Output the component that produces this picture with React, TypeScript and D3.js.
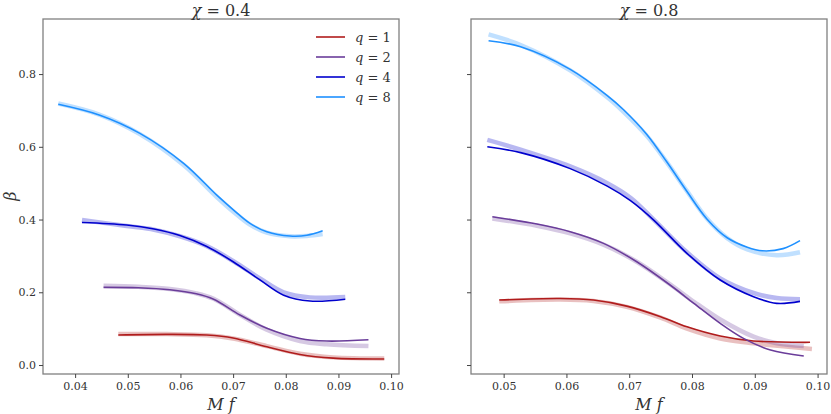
import { useEffect, useRef } from 'react'
import * as d3 from 'd3'

// panel titles and tick labels
const panels = ['0.4', '0.8']
const qValues = [1, 2, 4, 8]
const colors = ['#b01c1c', '#6a3d9a', '#0000cd', '#1e90ff']
const yTicks = [0.0, 0.2, 0.4, 0.6, 0.8]
const xTicksLeft = [0.04, 0.05, 0.06, 0.07, 0.08, 0.09, 0.1]
const xTicksRight = [0.05, 0.06, 0.07, 0.08, 0.09, 0.1]

// chi = 0.4, solid curves [Mf, beta]
const left1: [number, number][] = [[0.0482, 0.0825], [0.0574, 0.0843], [0.065, 0.0825], [0.070, 0.0745], [0.0764, 0.050], [0.0827, 0.029], [0.089, 0.019], [0.0987, 0.0165]]
const left2: [number, number][] = [[0.0454, 0.2136], [0.052, 0.2125], [0.058, 0.207], [0.063, 0.196], [0.0663, 0.181], [0.0713, 0.1375], [0.0764, 0.101], [0.0827, 0.073], [0.0878, 0.066], [0.0957, 0.0696]]
const left4: [number, number][] = [[0.0413, 0.392], [0.0498, 0.385], [0.055, 0.374], [0.0599, 0.356], [0.065, 0.326], [0.070, 0.284], [0.0751, 0.234], [0.0796, 0.192], [0.0846, 0.176], [0.0913, 0.181]]
const left8: [number, number][] = [[0.0368, 0.717], [0.0447, 0.687], [0.0523, 0.637], [0.0606, 0.5545], [0.0669, 0.467], [0.0701, 0.426], [0.0732, 0.3895], [0.0764, 0.3665], [0.0808, 0.3547], [0.084, 0.3566], [0.087, 0.369]]

// chi = 0.4, faded fits
const leftFit1: [number, number][] = [[0.0482, 0.085], [0.0574, 0.085], [0.065, 0.082], [0.070, 0.073], [0.0764, 0.052], [0.0827, 0.031], [0.089, 0.021], [0.0987, 0.018]]
const leftFit2: [number, number][] = [[0.0454, 0.218], [0.052, 0.215], [0.058, 0.209], [0.063, 0.197], [0.0663, 0.182], [0.0713, 0.138], [0.0764, 0.097], [0.0827, 0.066], [0.0878, 0.057], [0.0957, 0.052]]
const leftFit4: [number, number][] = [[0.0413, 0.399], [0.0498, 0.382], [0.055, 0.372], [0.0599, 0.354], [0.065, 0.327], [0.070, 0.286], [0.0751, 0.238], [0.0796, 0.200], [0.0846, 0.186], [0.0913, 0.187]]
const leftFit8: [number, number][] = [[0.0368, 0.719], [0.0447, 0.688], [0.0523, 0.635], [0.0606, 0.550], [0.0669, 0.462], [0.0701, 0.421], [0.0732, 0.386], [0.0764, 0.364], [0.0808, 0.354], [0.084, 0.355], [0.087, 0.360]]

// chi = 0.8, solid curves
const right1: [number, number][] = [[0.0493, 0.1787], [0.059, 0.183], [0.0643, 0.1787], [0.0696, 0.162], [0.075, 0.133], [0.0792, 0.105], [0.0845, 0.0797], [0.0898, 0.066], [0.0988, 0.0624]]
const right2: [number, number][] = [[0.0482, 0.4077], [0.0553, 0.3876], [0.0606, 0.3665], [0.0659, 0.3345], [0.0712, 0.284], [0.0765, 0.22], [0.0803, 0.1696], [0.0845, 0.1146], [0.0882, 0.0733], [0.0925, 0.041], [0.0978, 0.0247]]
const right4: [number, number][] = [[0.0474, 0.600], [0.0527, 0.584], [0.0606, 0.540], [0.0665, 0.492], [0.0702, 0.452], [0.0739, 0.3986], [0.0792, 0.307], [0.0845, 0.2337], [0.0898, 0.1878], [0.0935, 0.1696], [0.0972, 0.175]]
const right8: [number, number][] = [[0.0476, 0.8915], [0.0527, 0.875], [0.0606, 0.813], [0.0665, 0.741], [0.0691, 0.702], [0.0728, 0.634], [0.076, 0.558], [0.0792, 0.477], [0.0824, 0.401], [0.0856, 0.350], [0.0888, 0.324], [0.0912, 0.314], [0.0945, 0.320], [0.0972, 0.342]]

// chi = 0.8, faded fits
const rightFit1: [number, number][] = [[0.0493, 0.175], [0.059, 0.180], [0.0643, 0.176], [0.0696, 0.160], [0.075, 0.130], [0.0792, 0.100], [0.0845, 0.073], [0.0898, 0.0597], [0.0991, 0.044]]
const rightFit2: [number, number][] = [[0.0482, 0.403], [0.0553, 0.383], [0.0606, 0.362], [0.0659, 0.331], [0.0712, 0.284], [0.0765, 0.222], [0.0803, 0.174], [0.0845, 0.125], [0.0898, 0.078], [0.0935, 0.060], [0.0978, 0.052]]
const rightFit4: [number, number][] = [[0.0474, 0.619], [0.0527, 0.592], [0.0606, 0.546], [0.0665, 0.500], [0.0702, 0.460], [0.0739, 0.400], [0.0792, 0.310], [0.0845, 0.238], [0.0898, 0.198], [0.0935, 0.184], [0.0972, 0.181]]
const rightFit8: [number, number][] = [[0.0476, 0.909], [0.0527, 0.880], [0.0606, 0.810], [0.0665, 0.736], [0.0691, 0.696], [0.0728, 0.630], [0.076, 0.557], [0.0792, 0.478], [0.0824, 0.402], [0.0856, 0.349], [0.0888, 0.318], [0.0935, 0.302], [0.0972, 0.310]]

const solid = [[left1, left2, left4, left8], [right1, right2, right4, right8]]
const fits = [[leftFit1, leftFit2, leftFit4, leftFit8], [rightFit1, rightFit2, rightFit4, rightFit8]]
const xDomains: [number, number][] = [[0.0339, 0.1015], [0.0448, 0.1015]]

const FONT = '"DejaVu Serif", serif'

export default function App() {
  const svgRef = useRef<SVGSVGElement>(null)

  useEffect(() => {
    if (!svgRef.current) return
    const svg = d3.select(svgRef.current)
    svg.selectAll('*').remove()

    const top = 19
    const bottom = 374
    const plots = [{ left: 43, right: 399 }, { left: 471, right: 827 }]

    const y = d3.scaleLinear().domain([-0.0247, 0.9514]).range([bottom, top])

    plots.forEach((p, pi) => {
      const x = d3.scaleLinear().domain(xDomains[pi]).range([p.left, p.right])
      const g = svg.append('g')

      const line = d3.line<[number, number]>()
        .x(d => x(d[0]))
        .y(d => y(d[1]))
        .curve(d3.curveCatmullRom.alpha(0.5))

      // faded fits
      fits[pi].forEach((s, i) => {
        g.append('path').attr('d', line(s)).attr('fill', 'none')
          .attr('stroke', colors[i]).attr('stroke-opacity', 0.28).attr('stroke-width', 4.5)
      })
      // solid curves
      solid[pi].forEach((s, i) => {
        g.append('path').attr('d', line(s)).attr('fill', 'none')
          .attr('stroke', colors[i]).attr('stroke-width', 1.6)
      })

      // frame
      g.append('rect')
        .attr('x', p.left).attr('y', top)
        .attr('width', p.right - p.left).attr('height', bottom - top)
        .attr('fill', 'none').attr('stroke', '#808080').attr('stroke-width', 1.3)

      // x axis
      const xt = pi === 0 ? xTicksLeft : xTicksRight
      const xa = g.append('g').attr('transform', `translate(0,${bottom})`)
        .call(d3.axisBottom(x).tickValues(xt).tickSize(4).tickPadding(4).tickFormat(d3.format('.2f')))
      xa.select('.domain').remove()
      xa.selectAll('line').attr('stroke', '#444')
      xa.selectAll('text').attr('font-family', FONT).attr('font-size', 11).attr('fill', '#333')

      // y axis
      const ya = g.append('g').attr('transform', `translate(${p.left},0)`)
        .call(d3.axisLeft(y).tickValues(yTicks).tickSize(4).tickPadding(3)
          .tickFormat(d => pi === 0 ? d3.format('.1f')(d as number) : ''))
      ya.select('.domain').remove()
      ya.selectAll('line').attr('stroke', '#444')
      ya.selectAll('text').attr('font-family', FONT).attr('font-size', 11).attr('fill', '#333')

      const cx = (p.left + p.right) / 2
      // title
      const t = g.append('text').attr('x', cx).attr('y', 16).attr('text-anchor', 'middle')
        .attr('font-family', FONT).attr('font-size', 16).attr('fill', '#333')
      t.append('tspan').attr('font-style', 'italic').text('χ')
      t.append('tspan').text(` = ${panels[pi]}`)

      // x label
      g.append('text').attr('x', cx).attr('y', 410).attr('text-anchor', 'middle')
        .attr('font-family', FONT).attr('font-size', 16).attr('font-style', 'italic').attr('fill', '#333')
        .text('M f')
    })

    // y label
    svg.append('text').attr('transform', 'translate(16,196) rotate(-90)')
      .attr('text-anchor', 'middle').attr('font-family', FONT).attr('font-size', 16)
      .attr('font-style', 'italic').attr('fill', '#333').text('β')

    // legend
    const lg = svg.append('g')
    qValues.forEach((q, i) => {
      const ly = 37 + i * 20
      lg.append('line').attr('x1', 316).attr('x2', 345).attr('y1', ly).attr('y2', ly)
        .attr('stroke', colors[i]).attr('stroke-width', 1.6)
      const tx = lg.append('text').attr('x', 355).attr('y', ly + 5)
        .attr('font-family', FONT).attr('font-size', 13).attr('fill', '#333')
      tx.append('tspan').attr('font-style', 'italic').text('q')
      tx.append('tspan').text(` = ${q}`)
    })
  }, [])

  return (
    <svg ref={svgRef} width={831} height={414}
      style={{ position: 'absolute', left: 0, top: 0, background: '#fff' }} />
  )
}
